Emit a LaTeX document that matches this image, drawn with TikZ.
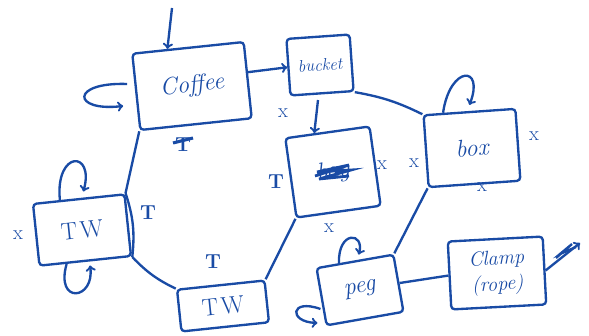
\documentclass[tikz,border=0pt]{standalone}
\usetikzlibrary{calc}
\definecolor{ink}{RGB}{25,75,165}
\tikzset{
  sketch/.style={draw=ink, line width=2pt, rounded corners=3pt, font=\huge\itshape, text=ink},
  crossmark/.style={text=ink, font=\LARGE},
  tmark/.style={text=ink, font=\LARGE\bfseries}
}
\begin{document}
\begin{tikzpicture}[x=0.03cm,y=-0.03cm,color=ink,line width=2pt]
\useasboundingbox (0,0) rectangle (589,335);
% boxes
\node[sketch, minimum width=3.36cm, minimum height=2.3cm, rotate=6] (coffee) at (192,86) {Coffee};
\node[sketch, minimum width=1.9cm, minimum height=1.7cm, rotate=4, font=\Large\itshape] (bucket) at (320,65) {bucket};
\node[sketch, minimum width=2.55cm, minimum height=2.4cm, rotate=8] (bag) at (333,172) {bag};
\node[sketch, minimum width=2.76cm, minimum height=2.16cm, rotate=4] (box) at (472,148) {box};
\node[sketch, minimum width=2.76cm, minimum height=1.86cm, rotate=6, font=\huge] (twl) at (82,230) {T\kern0.12em W};
\node[sketch, minimum width=2.64cm, minimum height=1.26cm, rotate=6, font=\huge] (twb) at (223,306) {T\kern0.12em W};
\node[sketch, minimum width=2.34cm, minimum height=1.74cm, rotate=10] (peg) at (360,290) {peg};
\node[sketch, minimum width=2.85cm, minimum height=2.04cm, rotate=3, align=center, font=\LARGE\itshape] (clamp) at (497,273) {Clamp\\(rope)};
% scribbled-out name
\draw[line width=2.4pt] ($(bag.center)+(-18,4)$) -- ($(bag.center)+(16,-7)$) -- ($(bag.center)+(-16,0)$) -- ($(bag.center)+(18,-2)$) -- ($(bag.center)+(-14,7)$) -- ($(bag.center)+(16,4)$);
% links
\draw (coffee.south west) -- (twl.north east);
\draw (twl.north east) to[bend left=12] (twl.south east);
\draw (twl.south east) to[bend right=10] (twb.north west);
\draw (twb.north east) -- (bag.south west);
\draw (bucket.south east) to[bend left=8] (box.north west);
\draw (box.south west) -- (peg.north east);
\draw (peg.east) -- (clamp.west);
\draw[->] ($(coffee.north east)!0.4!(coffee.south east)$) -- (bucket.west);
% inputs
\coordinate (coffeein) at (172,8);
\draw[->] (coffeein) -- ($(coffee.north west)!0.32!(coffee.north east)$);
\coordinate (bagin) at (318,100);
\draw[->] (bagin) -- ($(bag.north west)!0.35!(bag.north east)$);
\coordinate (clampout) at (580,243);
\draw[->] (clamp.east) -- (clampout);
\draw (556,258) -- (572,244) -- (560,254) -- (576,247);
% loops
\draw[->] ($(coffee.west)+(-8,-8)$) .. controls (70,82) and (72,112) .. ($(coffee.west)+(-12,14)$);
\draw[->] ($(twl.north west)!0.3!(twl.north east)$) .. controls (55,150) and (95,150) .. ($(twl.north west)!0.55!(twl.north east)+(0,-6)$);
\draw[->] ($(twl.south west)!0.3!(twl.south east)$) .. controls (55,305) and (95,300) .. ($(twl.south west)!0.55!(twl.south east)+(0,4)$);
\draw[->] ($(box.north west)!0.22!(box.north east)$) .. controls (450,65) and (485,65) .. ($(box.north west)!0.5!(box.north east)+(0,-6)$);
\draw[->] ($(peg.north west)!0.3!(peg.north east)$) .. controls (338,230) and (365,232) .. ($(peg.north west)!0.55!(peg.north east)+(0,-5)$);
\draw[->] ($(peg.west)+(0,12)$) .. controls (290,298) and (288,322) .. ($(peg.west)+(-3,26)$);
% marks
\node[crossmark] (xcb) at (283,113) {x};
\node[crossmark] (xbag) at (382,165) {x};
\node[crossmark] (xboxl) at (414,163) {x};
\node[crossmark] (xboxr) at (534,136) {x};
\node[crossmark] (xboxb) at (482,187) {x};
\node[crossmark] (xbagb) at (329,228) {x};
\node[crossmark] (xtw) at (18,235) {x};
\node[tmark] (ttw) at (148,213) {T};
\node[tmark] (ttwb) at (213,262) {T};
\node[tmark] (tbag) at (276,182) {T};
\node[tmark] (tcoffee) at (183,145) {T};
\draw[line width=2.6pt] ($(tcoffee)+(-10,-2)$) -- ($(tcoffee)+(10,-7)$);
\end{tikzpicture}
\end{document}
